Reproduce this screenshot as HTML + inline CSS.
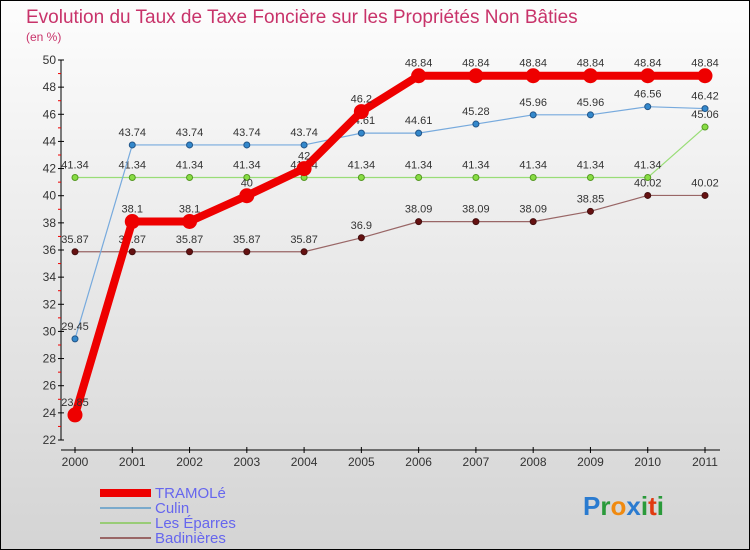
<!DOCTYPE html>
<html><head><meta charset="utf-8"><style>
body{margin:0;}
svg{display:block;font-family:"Liberation Sans",sans-serif;}
</style></head><body>
<svg id="c" width="750" height="550" xmlns="http://www.w3.org/2000/svg">
<defs><linearGradient id="bg" x1="0" y1="0" x2="0" y2="1"><stop offset="0" stop-color="#fdfdfd"/><stop offset="1" stop-color="#d4d4d4"/></linearGradient></defs>
<rect x="0.5" y="0.5" width="749" height="549" fill="url(#bg)" stroke="#000"/>
<text x="26" y="23" font-size="19" fill="#c8336a">Evolution du Taux de Taxe Foncière sur les Propriétés Non Bâties</text>
<text x="26" y="41" font-size="12" fill="#c8336a">(en %)</text>
<g id="axes"></g><g id="series"></g>
<g>
<rect x="100" y="489" width="51" height="8" fill="#e00"/>
<text x="155" y="498" font-size="15" fill="#6666ee">TRAMOLé</text>
<rect x="100" y="507" width="51" height="2" fill="#7aaacc"/>
<text x="155" y="513" font-size="15" fill="#6666ee">Culin</text>
<rect x="100" y="522" width="51" height="2" fill="#99cc77"/>
<text x="155" y="528" font-size="15" fill="#6666ee">Les Éparres</text>
<rect x="100" y="537" width="51" height="2" fill="#996666"/>
<text x="155" y="543" font-size="15" fill="#6666ee">Badinières</text>
</g>
<text x="583" y="515" font-size="26" font-weight="bold"><tspan fill="#2a7bd0">P</tspan><tspan fill="#2a9a3a">r</tspan><tspan fill="#f08a10">o</tspan><tspan fill="#2a7bd0">x</tspan><tspan fill="#2a9a3a">i</tspan><tspan fill="#e03a10">t</tspan><tspan fill="#2a9a3a">i</tspan></text>
</svg>
<script>
const years=["2000","2001","2002","2003","2004","2005","2006","2007","2008","2009","2010","2011"];
const yTicks=[22,24,26,28,30,32,34,36,38,40,42,44,46,48,50];
const tramole=[23.85,38.1,38.1,40,42,46.2,48.84,48.84,48.84,48.84,48.84,48.84];
const culin=[29.45,43.74,43.74,43.74,43.74,44.61,44.61,45.28,45.96,45.96,46.56,46.42];
const eparres=[41.34,41.34,41.34,41.34,41.34,41.34,41.34,41.34,41.34,41.34,41.34,45.06];
const badinieres=[35.87,35.87,35.87,35.87,35.87,36.9,38.09,38.09,38.09,38.85,40.02,40.02];
const NS="http://www.w3.org/2000/svg";
const X=i=>75+i*(630/(years.length-1));
const Y=v=>440-(v-22)*(380/28);
function mk(t,a,p){const e=document.createElementNS(NS,t);for(const k in a)e.setAttribute(k,a[k]);p.appendChild(e);return e;}
const ax=document.getElementById('axes');
let l=mk('line',{x1:61,y1:60,x2:61,y2:440,stroke:'#000'},ax);


l=mk('line',{x1:61,y1:450,x2:720,y2:450,stroke:'#000'},ax);


yTicks.forEach(v=>{const y=Y(v);
mk('line',{x1:58,y1:y,x2:64,y2:y,stroke:'#000'},ax);
mk('line',{x1:58,y1:Y(v+1),x2:61,y2:Y(v+1),stroke:'#e00'},ax).setAttribute('opacity',v<50?1:0);
const t=mk('text',{x:56,y:y+4,'font-size':12,fill:'#333','text-anchor':'end'},ax);t.textContent=v;

});
years.forEach((yr,i)=>{const x=X(i);
mk('line',{x1:x,y1:447,x2:x,y2:453,stroke:'#000'},ax);
const t=mk('text',{x:x,y:466,'font-size':12,fill:'#333','text-anchor':'middle'},ax);t.textContent=yr;

});
const sg=document.getElementById('series');
function series(vals,name,col,w,r,dot,stroke){
const g=mk('g',{},sg);


mk('polyline',{points:vals.map((v,i)=>X(i)+','+Y(v)).join(' '),fill:'none',stroke:col,'stroke-width':w,'stroke-linejoin':'round'},g);
vals.forEach((v,i)=>{const c=mk('circle',{cx:X(i),cy:Y(v),r:r,fill:dot,stroke:stroke,'stroke-width':1},g);


const t=mk('text',{x:X(i),y:Y(v)-9,'font-size':11,fill:'#333','text-anchor':'middle'},g);t.textContent=v;

});}
series(badinieres,'badinieres','#996666',1.2,3,'#661111','#441111');
series(eparres,'eparres','#99dd77',1.2,3,'#88dd44','#559922');
series(culin,'culin','#77aadd',1.2,3,'#3388cc','#225588');
series(tramole,'tramole','#ee0000',8,7,'#ee0000','#ee0000');
</script>
</body></html>
